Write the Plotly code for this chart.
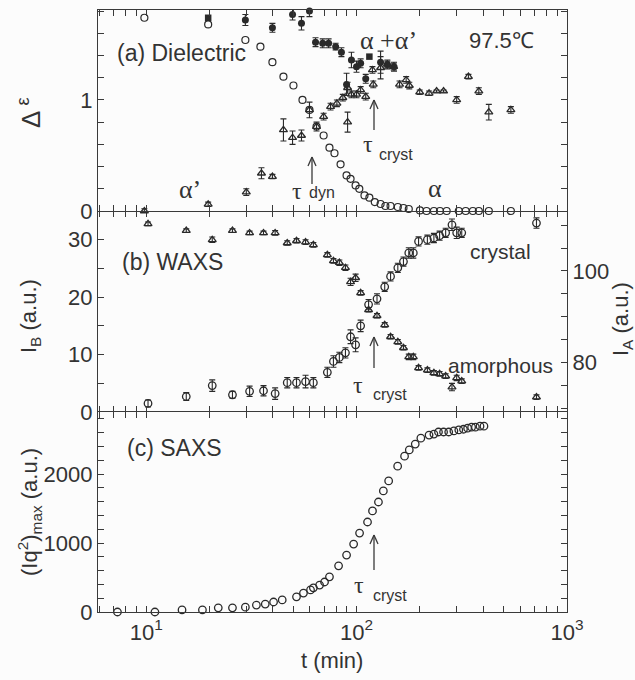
import numpy as np
import plotly.graph_objects as go

# ---------------- data ----------------
# (a) dielectric: alpha (open circles)
a_alpha_t = [9.8, 19.7, 29.6, 34.9, 39.8, 44.9, 50.1, 55.3, 59.7, 64.5, 69.7, 74.3, 78.5, 83.9,
             89.6, 93.6, 98.9, 103, 109, 115, 122, 130, 137, 145, 157, 167, 177, 200, 215, 233,
             249, 268, 306, 330, 357, 381, 425, 541]
a_alpha_eps = [1.74, 1.68, 1.54, 1.48, 1.34, 1.21, 1.13, 1.00, 0.91, 0.76, 0.68, 0.57, 0.52, 0.42,
               0.32, 0.29, 0.23, 0.20, 0.14, 0.12, 0.08, 0.063, 0.045, 0.045, 0.036, 0.027, 0.018,
               0.005, 0, 0, 0, 0, 0, 0, 0, 0, 0, 0]
# (a) alpha' (open triangles)
a_prime_t = [9.8, 19.7, 29.9, 35.3, 39.8, 44.9, 49.6, 54.7, 59.7, 64.5, 69.7, 75.2, 80.6, 86,
             90.6, 90.6, 94.5, 99.9, 104.5, 110.5, 118.9, 120, 130, 140, 150, 160, 172, 178,
             199.5, 221, 240, 259, 299, 340, 381, 425, 541]
a_prime_eps = [0.0, 0.06, 0.17, 0.34, 0.31, 0.73, 0.66, 0.68, 0.91, 0.76, 0.85, 0.94, 0.97, 1.02,
               1.11, 0.80, 1.05, 1.05, 1.09, 1.03, 1.27, 1.14, 1.29, 1.32, 1.30, 1.14, 1.18, 1.13,
               1.07, 1.06, 1.08, 1.08, 1.00, 1.21, 1.08, 0.89, 0.91]
a_prime_err = [0.02, 0.02, 0.03, 0.05, 0.02, 0.10, 0.06, 0.05, 0.07, 0.04, 0.03, 0.03, 0.03, 0.03,
               0.05, 0.09, 0.03, 0.03, 0.03, 0.03, 0.03, 0.03, 0.10, 0.03, 0.03, 0.03, 0.03, 0.03,
               0.02, 0.02, 0.01, 0.01, 0.03, 0.02, 0.03, 0.07, 0.03]
# (a) alpha + alpha' (filled circles)
a_sum_t = [29.6, 39.8, 49.6, 54.7, 59.7, 63.8, 69, 73.6, 79.5, 84.7, 89.6, 94.5, 99.9, 104.5,
           110.5, 130, 140, 150.6]
a_sum_eps = [1.72, 1.65, 1.77, 1.69, 1.80, 1.52, 1.51, 1.51, 1.48, 1.43, 1.14, 1.36, 1.30, 1.33,
             1.19, 1.34, 1.32, 1.30]
a_sum_err = [0.05, 0.04, 0.05, 0.06, 0.05, 0.04, 0.04, 0.04, 0.03, 0.04, 0.10, 0.07, 0.05, 0.04,
             0.04, 0.10, 0.04, 0.04]
a_sq_t = [19.7, 115]
a_sq_eps = [1.74, 1.39]

# (b) WAXS crystal I_B (open circles, left axis)
b_cry_t = [10.2, 15.5, 20.6, 25.7, 31, 36.1, 41, 46.8, 51.8, 57.2, 62.3, 72.6, 77.6, 82.8, 88.5,
           93.6, 98.9, 104.5, 114, 125, 136, 145, 157, 167, 177, 186, 197, 217, 233, 248, 265,
           284, 299, 316, 716]
b_cry_I = [1.5, 2.7, 4.6, 3.0, 3.6, 3.7, 3.2, 5.1, 5.1, 5.3, 5.1, 6.9, 8.8, 9.5, 10.3, 13.1, 11.7,
           15.0, 18.7, 19.7, 21.8, 23.6, 25.1, 26.2, 27.7, 27.7, 29.7, 30.0, 30.3, 30.7, 31.2,
           32.6, 31.2, 31.2, 32.9]
b_cry_err = [0.6, 0.7, 1.0, 0.6, 0.9, 0.9, 1.0, 0.9, 0.9, 1.1, 0.9, 0.9, 1.0, 0.9, 0.9, 1.2, 1.2,
             1.0, 0.9, 0.9, 0.8, 0.8, 0.8, 0.8, 0.9, 0.9, 0.8, 0.8, 0.8, 0.8, 0.8, 1.0, 1.0, 0.8,
             0.9]
# (b) WAXS amorphous I_A (open triangles, right axis)
b_am_t = [10.2, 15.5, 20.6, 25.7, 31, 36.1, 41, 46.8, 51.8, 57.2, 62.3, 72.6, 77.6, 82.8, 88.5,
          93.6, 98.9, 104.5, 114, 125, 136, 145, 157, 167, 177, 186, 197, 217, 233, 248, 265, 284,
          299, 316, 716]
b_am_I = [110.3, 108.8, 106.8, 108.8, 108.3, 108.3, 108.3, 106.1, 106.6, 106.3, 105.7, 103.5,
          102.2, 101.8, 100.7, 97.6, 98.5, 95.2, 91.5, 90.2, 88.2, 85.6, 84.5, 83.2, 81.2, 81.2,
          78.8, 78.3, 77.7, 77.5, 77.0, 74.6, 76.6, 75.9, 72.4]
b_am_err = [0.4, 0.4, 0.6, 0.4, 0.4, 0.4, 0.5, 0.5, 0.5, 0.5, 0.5, 0.5, 0.5, 0.6, 0.6, 0.8, 0.8,
            0.5, 0.5, 0.5, 0.5, 0.5, 0.5, 0.5, 0.6, 0.6, 0.5, 0.5, 0.5, 0.5, 0.5, 0.8, 0.6, 0.5,
            0.5]

# (c) SAXS (Iq^2)max
c_t = [7.3, 11.0, 14.8, 18.5, 22.0, 25.7, 29.6, 33.4, 36.8, 40.3, 44.3, 51.8, 55.9, 60.4, 62.3,
       66.7, 70.4, 74.3, 82.1, 89.6, 96.8, 103.3, 112.7, 119, 127, 134, 142, 156.7, 169, 178,
       190, 202, 221, 233, 245, 259, 274, 290, 306, 322, 337, 352, 367, 386, 403]
c_I = [0, 0, 30, 30, 60, 60, 70, 100, 115, 145, 175, 220, 275, 320, 350, 390, 435, 510, 670, 825,
       985, 1145, 1305, 1465, 1595, 1755, 1900, 2115, 2260, 2350, 2435, 2520, 2565, 2580, 2610,
       2610, 2610, 2625, 2640, 2650, 2665, 2680, 2680, 2695, 2695]

# tick positions / labels
x_major = [10, 100, 1000]
x_major_text = ["10<sup>1</sup>", "10<sup>2</sup>", "10<sup>3</sup>"]
x_minor = [6, 7, 8, 9] + [m * d for d in (10, 100) for m in range(2, 10)]
ya_major, ya_minor = [0, 1], [0.2, 0.4, 0.6, 0.8, 1.2, 1.4, 1.6, 1.8]
yb_major, yb_minor = [0, 10, 20, 30], [5, 15, 25]
yA_major, yA_minor = [80, 100], [70, 75, 85, 90, 95, 105, 110]
yc_major, yc_minor = [0, 1000, 2000], [v for v in range(200, 2900, 200) if v % 1000]

# ---------------- styling ----------------
INK = "#2a2a2a"
LINE = "#3a3a3a"
TXT = "#333333"
SANS = "Liberation Sans, Arial, sans-serif"
SERIF = "Liberation Serif, Times New Roman, serif"
BG = "#fcfcfc"

def ebar(arr, thick=1.1, width=3):
    return dict(type="data", array=arr, visible=True, color=INK, thickness=thick, width=width)

fig = go.Figure()

# panel (a)
fig.add_trace(go.Scatter(x=a_sum_t, y=a_sum_eps, mode="markers", xaxis="x3", yaxis="y3",
                         marker=dict(symbol="circle", size=7, color=INK),
                         error_y=ebar(a_sum_err), cliponaxis=False))
fig.add_trace(go.Scatter(x=a_sq_t, y=a_sq_eps, mode="markers", xaxis="x3", yaxis="y3",
                         marker=dict(symbol="square", size=6.5, color=INK), cliponaxis=False))
fig.add_trace(go.Scatter(x=a_prime_t, y=a_prime_eps, mode="markers", xaxis="x3", yaxis="y3",
                         marker=dict(symbol="triangle-up-open", size=7, color=INK,
                                     line=dict(width=1.3, color=INK)),
                         error_y=ebar(a_prime_err), cliponaxis=False))
fig.add_trace(go.Scatter(x=a_alpha_t, y=a_alpha_eps, mode="markers", xaxis="x3", yaxis="y3",
                         marker=dict(symbol="circle-open", size=7, color=INK,
                                     line=dict(width=1.2, color=INK)), cliponaxis=False))
# panel (b)
fig.add_trace(go.Scatter(x=b_cry_t, y=b_cry_I, mode="markers", xaxis="x2", yaxis="y2",
                         marker=dict(symbol="circle-open", size=7.5, color=INK,
                                     line=dict(width=1.3, color=INK)),
                         error_y=ebar(b_cry_err), cliponaxis=False))
fig.add_trace(go.Scatter(x=b_am_t, y=b_am_I, mode="markers", xaxis="x2", yaxis="y4",
                         marker=dict(symbol="triangle-up-open", size=7, color=INK,
                                     line=dict(width=1.3, color=INK)),
                         error_y=ebar(b_am_err), cliponaxis=False))
# panel (c)
fig.add_trace(go.Scatter(x=c_t, y=c_I, mode="markers", xaxis="x", yaxis="y",
                         marker=dict(symbol="circle-open", size=7.5, color=INK,
                                     line=dict(width=1.3, color=INK)), cliponaxis=False))

XR = [np.log10(5.9), 3.0]
tickfont = dict(family=SANS, size=22, color=TXT)

def ticks(major, minor, major_text=None):
    vals = list(major) + list(minor)
    if major_text is None:
        major_text = [f"{v:g}" for v in major]
    txt = list(major_text) + [""] * len(minor)
    return vals, txt

def xax(anchor, labels, showline):
    tv, tt = ticks(x_major, x_minor, x_major_text)
    return dict(type="log", range=XR, anchor=anchor, domain=[0, 1],
                tickmode="array", tickvals=tv, ticktext=tt,
                showticklabels=labels, ticks="inside", ticklen=6, tickwidth=1.2,
                tickcolor=LINE, showline=showline, linecolor=LINE, linewidth=1.4,
                mirror="ticks", showgrid=False, zeroline=False, tickfont=tickfont)

def yax(domain, rng, major, minor, anchor, side="left", mirror="ticks", overlaying=None):
    tv, tt = ticks(major, minor)
    d = dict(domain=domain, range=rng, anchor=anchor, side=side, tickmode="array",
             tickvals=tv, ticktext=tt, ticks="inside", ticklen=6, tickwidth=1.2,
             tickcolor=LINE, showline=True, linecolor=LINE, linewidth=1.4, mirror=mirror,
             showgrid=False, zeroline=False, tickfont=tickfont)
    if overlaying:
        d["overlaying"] = overlaying
    return d

PH = 602.0
dc = [0, 200 / PH]
db = [200 / PH, 401 / PH]
da = [401 / PH, 1]
fig.update_layout(
    width=635, height=680,
    margin=dict(l=98, r=68, t=10, b=68, pad=0),
    paper_bgcolor=BG, plot_bgcolor=BG,
    showlegend=False,
    xaxis=xax("y", True, True),
    xaxis2=xax("y2", False, False) | dict(matches="x"),
    xaxis3=xax("y3", False, True) | dict(matches="x"),
    yaxis=yax(dc, [0, 2900], yc_major, yc_minor, "x"),
    yaxis2=yax(db, [0, 35], yb_major, yb_minor, "x2", mirror=False),
    yaxis3=yax(da, [0, 1.81], ya_major, ya_minor, "x3"),
    yaxis4=yax(db, [69.15, 113.1], yA_major, yA_minor, "x2",
               side="right", mirror=False, overlaying="y2"),
)

# ---------- annotations ----------
X0, X1, Y0, Y1 = 98, 567, 10, 612
def px(x):
    return (x - X0) / (X1 - X0)
def py(y):
    return (Y1 - y) / (Y1 - Y0)

ann = []
def text(x, y, s, size=22, family=SANS, xanchor="center", angle=0):
    ann.append(dict(xref="paper", yref="paper", x=px(x), y=py(y), text=s, showarrow=False,
                    xanchor=xanchor, yanchor="middle", textangle=angle,
                    font=dict(family=family, size=size, color=TXT)))

# axis titles
text(30, 113, "Δ<sup> ε</sup>", size=26, angle=-90)
text(30, 316, "I<sub>B</sub> (a.u.)", size=22, angle=-90)
text(29, 512, "(Iq<sup>2</sup>)<sub>max</sub> (a.u.)", size=22, angle=-90)
text(622, 319, "I<sub>A</sub> (a.u.)", size=22, angle=-90)
text(332, 660, "t (min)", size=22)

# panel labels
text(115, 53, "(a) Dielectric", size=23, xanchor="left")
text(501, 41, "97.5℃", size=22)
text(388, 40, "α +α’", size=26, family=SERIF)
text(190, 189, "α’", size=26, family=SERIF)
text(435, 188, "α", size=26, family=SERIF)
text(120, 262, "(b) WAXS", size=23, xanchor="left")
text(500, 252, "crystal", size=21)
text(500, 365, "amorphous", size=21)
text(125, 448, "(c) SAXS", size=23, xanchor="left")

# tau labels
text(297, 191, "τ", size=24, family=SERIF)
text(322, 192, "dyn", size=16)
text(368, 144, "τ", size=24, family=SERIF)
text(396, 154, "cryst", size=16)
text(358, 385, "τ", size=24, family=SERIF)
text(390, 394, "cryst", size=16)
text(359, 585, "τ", size=24, family=SERIF)
text(390, 595, "cryst", size=16)

fig.update_layout(annotations=ann)

# arrows (tip, tail) in pixel space converted to paper
shapes = []
def arrow(x, tip, tail):
    ln = dict(color=LINE, width=1.3)
    shapes.append(dict(type="line", xref="paper", yref="paper", x0=px(x), x1=px(x),
                       y0=py(tip), y1=py(tail), line=ln))
    shapes.append(dict(type="line", xref="paper", yref="paper", x0=px(x), x1=px(x - 4),
                       y0=py(tip), y1=py(tip + 9), line=ln))
    shapes.append(dict(type="line", xref="paper", yref="paper", x0=px(x), x1=px(x + 4),
                       y0=py(tip), y1=py(tip + 9), line=ln))

arrow(312, 157, 184)
arrow(374, 100, 130)
arrow(374, 337, 368)
arrow(374, 535, 570)
fig.update_layout(shapes=shapes)

fig.write_html("out.html")
